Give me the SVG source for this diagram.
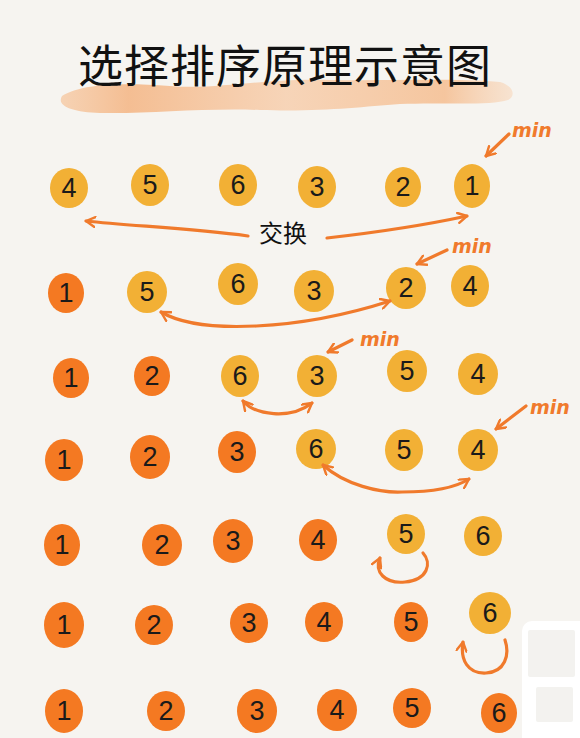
<svg xmlns="http://www.w3.org/2000/svg" width="580" height="738" viewBox="0 0 580 738">
<style>
.y{fill:#F2B035}
.o{fill:#F47922}
.n{font-family:"Liberation Sans","DejaVu Sans",sans-serif;font-size:27px;fill:#1a1a1a;text-anchor:middle;dominant-baseline:central}
.c{fill:none;stroke:#F07A2C;stroke-width:3.2;stroke-linecap:round;stroke-linejoin:round}
.m{font-family:"DejaVu Sans",sans-serif;font-style:italic;font-size:19px;fill:#F07A2C;font-weight:600}
</style>
<defs>
<marker id="ah" viewBox="0 0 12 12" refX="10" refY="6" markerWidth="12" markerHeight="12" markerUnits="userSpaceOnUse" orient="auto-start-reverse">
<path d="M1,1 L10,6 L1,11" fill="none" stroke="#F07A2C" stroke-width="2.4" stroke-linecap="round" stroke-linejoin="round"/>
</marker>
<linearGradient id="hl" x1="0" y1="0" x2="1" y2="0">
<stop offset="0" stop-color="#F6C49A" stop-opacity="0.7"/>
<stop offset="0.15" stop-color="#F4B482" stop-opacity="0.85"/>
<stop offset="0.5" stop-color="#F7C7A0" stop-opacity="0.7"/>
<stop offset="0.85" stop-color="#F5BA8A" stop-opacity="0.8"/>
<stop offset="1" stop-color="#F8D2B2" stop-opacity="0.5"/>
</linearGradient>
</defs>
<rect width="580" height="738" fill="#F6F4F0"/>
<g id="title">
<path d="M62,96 C80,84 120,82 170,86 C220,90 260,78 330,80 C390,81 450,78 500,82 C514,86 516,96 508,100 C490,106 440,102 400,104 C360,107 320,112 260,110 C200,108 150,114 100,113 C72,112 56,106 62,96 Z" fill="url(#hl)"/>
<text x="285" y="83" font-family="Noto Sans CJK SC, sans-serif" font-size="45" fill="#111" text-anchor="middle" letter-spacing="1">选择排序原理示意图</text>
</g>
<g id="row1">
<ellipse class="y" cx="69" cy="188" rx="19" ry="20"/><text class="n" x="69" y="188">4</text>
<ellipse class="y" cx="150" cy="185" rx="19" ry="21"/><text class="n" x="150" y="185">5</text>
<ellipse class="y" cx="238" cy="185" rx="19" ry="21"/><text class="n" x="238" y="185">6</text>
<ellipse class="y" cx="317" cy="187" rx="19" ry="21"/><text class="n" x="317" y="187">3</text>
<ellipse class="y" cx="403" cy="187" rx="18" ry="20"/><text class="n" x="403" y="187">2</text>
<ellipse class="y" cx="472" cy="186" rx="18" ry="22"/><text class="n" x="472" y="186">1</text>
</g>
<g id="row2">
<ellipse class="o" cx="66" cy="293" rx="18" ry="20"/><text class="n" x="66" y="293">1</text>
<ellipse class="y" cx="147" cy="292" rx="20" ry="21"/><text class="n" x="147" y="292">5</text>
<ellipse class="y" cx="238" cy="284" rx="20" ry="21"/><text class="n" x="238" y="284">6</text>
<ellipse class="y" cx="314" cy="291" rx="20" ry="21"/><text class="n" x="314" y="291">3</text>
<ellipse class="y" cx="406" cy="288" rx="20" ry="21"/><text class="n" x="406" y="288">2</text>
<ellipse class="y" cx="470" cy="286" rx="19" ry="21"/><text class="n" x="470" y="286">4</text>
</g>
<g id="row3">
<ellipse class="o" cx="71" cy="378" rx="18" ry="20"/><text class="n" x="71" y="378">1</text>
<ellipse class="o" cx="152" cy="376" rx="18" ry="20"/><text class="n" x="152" y="376">2</text>
<ellipse class="y" cx="240" cy="376" rx="19" ry="21"/><text class="n" x="240" y="376">6</text>
<ellipse class="y" cx="317" cy="376" rx="20" ry="21"/><text class="n" x="317" y="376">3</text>
<ellipse class="y" cx="407" cy="371" rx="20" ry="21"/><text class="n" x="407" y="371">5</text>
<ellipse class="y" cx="478" cy="374" rx="20" ry="21"/><text class="n" x="478" y="374">4</text>
</g>
<g id="row4">
<ellipse class="o" cx="64" cy="460" rx="19" ry="21"/><text class="n" x="64" y="460">1</text>
<ellipse class="o" cx="150" cy="457" rx="20" ry="22"/><text class="n" x="150" y="457">2</text>
<ellipse class="o" cx="237" cy="452" rx="19" ry="21"/><text class="n" x="237" y="452">3</text>
<ellipse class="y" cx="316" cy="449" rx="20" ry="20"/><text class="n" x="316" y="449">6</text>
<ellipse class="y" cx="404" cy="450" rx="19" ry="21"/><text class="n" x="404" y="450">5</text>
<ellipse class="y" cx="478" cy="450" rx="20" ry="21"/><text class="n" x="478" y="450">4</text>
</g>
<g id="row5">
<ellipse class="o" cx="62" cy="545" rx="18" ry="21"/><text class="n" x="62" y="545">1</text>
<ellipse class="o" cx="162" cy="545" rx="20" ry="21"/><text class="n" x="162" y="545">2</text>
<ellipse class="o" cx="233" cy="541" rx="20" ry="22"/><text class="n" x="233" y="541">3</text>
<ellipse class="o" cx="318" cy="540" rx="19" ry="21"/><text class="n" x="318" y="540">4</text>
<ellipse class="y" cx="406" cy="534" rx="19" ry="20"/><text class="n" x="406" y="534">5</text>
<ellipse class="y" cx="483" cy="536" rx="19" ry="20"/><text class="n" x="483" y="536">6</text>
</g>
<g id="row6">
<ellipse class="o" cx="64" cy="625" rx="20" ry="23"/><text class="n" x="64" y="625">1</text>
<ellipse class="o" cx="154" cy="625" rx="19" ry="20"/><text class="n" x="154" y="625">2</text>
<ellipse class="o" cx="249" cy="623" rx="19" ry="20"/><text class="n" x="249" y="623">3</text>
<ellipse class="o" cx="324" cy="622" rx="19" ry="20"/><text class="n" x="324" y="622">4</text>
<ellipse class="o" cx="411" cy="622" rx="17" ry="20"/><text class="n" x="411" y="622">5</text>
<ellipse class="y" cx="490" cy="613" rx="21" ry="21"/><text class="n" x="490" y="613">6</text>
</g>
<g id="row7">
<ellipse class="o" cx="64" cy="711" rx="19" ry="22"/><text class="n" x="64" y="711">1</text>
<ellipse class="o" cx="166" cy="711" rx="19" ry="20"/><text class="n" x="166" y="711">2</text>
<ellipse class="o" cx="257" cy="711" rx="20" ry="22"/><text class="n" x="257" y="711">3</text>
<ellipse class="o" cx="337" cy="710" rx="20" ry="21"/><text class="n" x="337" y="710">4</text>
<ellipse class="o" cx="412" cy="708" rx="19" ry="20"/><text class="n" x="412" y="708">5</text>
<ellipse class="o" cx="499" cy="713" rx="18" ry="20"/><text class="n" x="499" y="713">6</text>
</g>
<g id="labels">
<text x="283" y="242" font-family="Noto Sans CJK SC, sans-serif" font-size="24" fill="#111" text-anchor="middle">交换</text>
<text class="m" x="512" y="137">min</text>
<text class="m" x="452" y="253">min</text>
<text class="m" x="360" y="346">min</text>
<text class="m" x="530" y="414">min</text>
</g>
<g id="connectors">
<path class="c" d="M248,236 C190,228 130,226 86,221" marker-end="url(#ah)"/>
<path class="c" d="M327,238 C380,232 430,224 467,216" marker-end="url(#ah)"/>
<path class="c" d="M509,134 L486,156" marker-end="url(#ah)"/>
<path class="c" d="M161,312 C200,335 300,330 390,301" marker-start="url(#ah)" marker-end="url(#ah)"/>
<path class="c" d="M447,250 L417,264" marker-end="url(#ah)"/>
<path class="c" d="M243,401 C255,415 290,420 312,403" marker-start="url(#ah)" marker-end="url(#ah)"/>
<path class="c" d="M352,340 L328,352" marker-end="url(#ah)"/>
<path class="c" d="M323,465 C345,485 380,493 402,492 C430,492 455,488 469,479" marker-start="url(#ah)" marker-end="url(#ah)"/>
<path class="c" d="M526,406 L496,429" marker-end="url(#ah)"/>
<path class="c" d="M423,553 C432,563 428,580 405,582 C385,584 374,572 380,558" marker-end="url(#ah)"/>
<path class="c" d="M505,640 C510,655 505,672 486,673 C468,674 460,660 463,642" marker-end="url(#ah)"/>
</g>
<g id="panel">
<rect x="522" y="621" width="70" height="130" rx="10" fill="#ffffff"/>
<rect x="528" y="630" width="47" height="47" rx="2" fill="#F3F2EF"/>
<rect x="536" y="687" width="37" height="35" rx="2" fill="#F3F2EF"/>
</g>
</svg>
